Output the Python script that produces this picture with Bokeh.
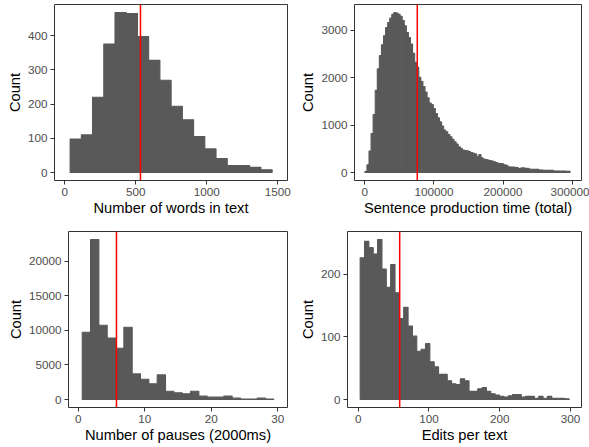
import numpy as np
from bokeh.plotting import figure
from bokeh.layouts import column, row
from bokeh.models import Range1d, Span, FixedTicker, BasicTickFormatter
from bokeh.embed import file_html
from bokeh.resources import INLINE

# ---------------- data ----------------
# Panel 1: Number of words in text
words_bin_start = 37.0
words_bin_width = 79.1
words_counts = [98, 110, 220, 376, 468, 465, 398, 328, 270, 194, 154, 105, 69, 41, 20, 20, 15, 8]
words_mean = 533
words_xticks = [0, 500, 1000, 1500]
words_yticks = [0, 100, 200, 300, 400]

# Panel 2: Sentence production time (total)
time_bin_start = 0.0
time_bin_width = 3000.0
time_counts = [20, 160, 454, 825, 1223, 1734, 2188, 2468, 2698, 2887,
               3062, 3167, 3260, 3340, 3379, 3365, 3340, 3300, 3210, 3097,
               2957, 2852, 2712, 2516, 2328, 2223, 2013, 1922, 1817, 1699,
               1580, 1468, 1433, 1349, 1244, 1153, 1069, 979, 895, 860,
               804, 755, 699, 650, 601, 545, 510, 475, 461, 458,
               440, 420, 405, 390, 331, 380, 310, 282, 275, 262,
               253, 240, 225, 211, 195, 190, 183, 160, 150, 118,
               115, 113, 112, 105, 85, 95, 100, 90, 88, 72,
               70, 70, 68, 65, 52, 50, 49, 49, 48, 48,
               47, 32, 30, 30, 28, 28, 28, 27, 27]
time_mean = 75850
time_xticks = [0, 100000, 200000, 300000]
time_yticks = [0, 1000, 2000, 3000]

# Panel 3: Number of pauses (2000ms)
pause_bin_start = 0.6
pause_bin_width = 1.252
pause_counts = [9736, 23184, 10749, 8917, 7423, 10459, 3711, 2940, 2265, 3567,
                1205, 964, 819, 1205, 482, 337, 337, 482, 193, 48, 48, 193, 48]
pause_mean = 5.75
pause_xticks = [0, 10, 20, 30]
pause_yticks = [0, 5000, 10000, 15000, 20000]

# Panel 4: Edits per text
edit_bin_start = 2.8
edit_bin_width = 6.15
edit_counts = [226, 252, 242, 232, 255, 208, 179, 215, 170, 129,
               147, 117, 101, 77, 80, 89, 60, 52, 40, 40,
               30, 25, 24, 33, 30, 13, 13, 17, 19, 13,
               9, 7, 5, 4, 6, 8, 8, 4, 5, 5,
               2, 5, 2, 5, 2, 2, 2, 1]
edit_mean = 58.6
edit_xticks = [0, 100, 200, 300]
edit_yticks = [0, 100, 200]

# ---------------- styling ----------------
BAR = "#595959"
FONT = "Liberation Sans"


def panel(counts, start, width, mean, xlabel, xr, yr, xticks, yticks,
          w, h, bl, br, bt, bb):
    counts = np.asarray(counts, dtype=float)
    edges = start + width * np.arange(len(counts) + 1)
    p = figure(width=w, height=h, output_backend="svg", toolbar_location=None,
               x_range=Range1d(*xr), y_range=Range1d(*yr),
               min_border_left=bl, min_border_right=br,
               min_border_top=bt, min_border_bottom=bb)
    p.quad(left=edges[:-1], right=edges[1:], top=counts, bottom=0,
           fill_color=BAR, line_color=BAR, line_width=1.1)
    p.add_layout(Span(location=mean, dimension="height",
                      line_color="red", line_width=1.5))
    p.xgrid.visible = False
    p.ygrid.visible = False
    p.outline_line_color = "#333333"
    p.outline_line_width = 1
    p.outline_line_alpha = 1
    p.background_fill_color = "white"
    p.border_fill_color = "white"
    for ax in (p.xaxis[0], p.yaxis[0]):
        ax.axis_line_color = None
        ax.major_tick_line_color = "#333333"
        ax.major_tick_in = 0
        ax.major_tick_out = 4
        ax.minor_tick_line_color = None
        ax.major_label_text_font = FONT
        ax.major_label_text_font_size = "11.7px"
        ax.major_label_text_color = "#4D4D4D"
        ax.axis_label_text_font = FONT
        ax.axis_label_text_font_size = "14.7px"
        ax.axis_label_text_font_style = "normal"
        ax.axis_label_text_color = "black"
        ax.major_label_standoff = 3
    p.xaxis[0].axis_label_standoff = 1
    p.yaxis[0].axis_label_standoff = 2
    p.xaxis.ticker = FixedTicker(ticks=xticks)
    p.yaxis.ticker = FixedTicker(ticks=yticks)
    p.xaxis.formatter = BasicTickFormatter(use_scientific=False)
    p.yaxis.formatter = BasicTickFormatter(use_scientific=False)
    p.xaxis.axis_label = xlabel
    p.yaxis.axis_label = "Count"
    return p


wmax = max(words_counts)
p1 = panel(words_counts, words_bin_start, words_bin_width, words_mean,
           "Number of words in text", (-73, 1569), (-0.05 * wmax, 1.05 * wmax),
           words_xticks, words_yticks, 295, 224, 54, 8, 4, 44)

tmax = max(time_counts)
p2 = panel(time_counts, time_bin_start, time_bin_width, time_mean,
           "Sentence production time (total)", (-15000, 313500), (-0.05 * tmax, 1.05 * tmax),
           time_xticks, time_yticks, 294, 224, 59, 8, 4, 44)

pmax = max(pause_counts)
p3 = panel(pause_counts, pause_bin_start, pause_bin_width, pause_mean,
           "Number of pauses (2000ms)", (-1.46, 31.45), (-0.05 * pmax, 1.05 * pmax),
           pause_xticks, pause_yticks, 295, 223, 68, 8, 7, 40)

emax = max(edit_counts)
p4 = panel(edit_counts, edit_bin_start, edit_bin_width, edit_mean,
           "Edits per text", (-15.1, 315.4), (-0.05 * emax, 1.05 * emax),
           edit_xticks, edit_yticks, 294, 223, 52, 8, 7, 40)

layout = column(row(p1, p2), row(p3, p4))
open("out.html", "w").write(file_html(layout, INLINE))
